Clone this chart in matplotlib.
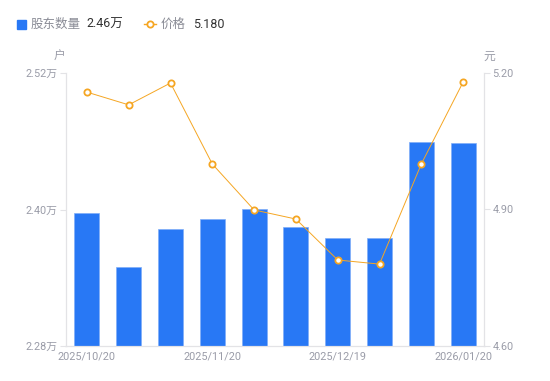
import matplotlib
matplotlib.use("Agg")
import matplotlib.pyplot as plt
from matplotlib.lines import Line2D

plt.rcParams['font.family'] = ['Roboto', 'Noto Sans CJK SC', 'DejaVu Sans']

dates = ["2025/10/20", "2025/10/31", "2025/11/10", "2025/11/20", "2025/11/28",
         "2025/12/10", "2025/12/19", "2025/12/31", "2026/01/09", "2026/01/20"]
holders = [2.3967, 2.3494, 2.3829, 2.3914, 2.4007, 2.3844, 2.3749, 2.3747, 2.4596, 2.4582]
price = [5.158, 5.130, 5.178, 5.000, 4.899, 4.879, 4.789, 4.780, 5.000, 5.180]
tick_idx = [0, 3, 6, 9]
left_ticks = [2.28, 2.40, 2.52]
left_labels = ["2.28万", "2.40万", "2.52万"]
right_ticks = [4.60, 4.90, 5.20]
right_labels = ["4.60", "4.90", "5.20"]

bar_color = "#2878F5"
bar_edge = "#7FAEF8"
line_color = "#F5A623"
txt = "#9A9CA8"
axis_c = "#E3E3E6"

fig = plt.figure(figsize=(5.5, 3.81), dpi=100)
ax = fig.add_axes([66/550, 1-346/381, (484-66)/550, (346-73)/381])
x = list(range(len(dates)))
ax.bar(x, holders, width=0.6, color=bar_color, edgecolor=bar_edge, linewidth=0.5, zorder=2)
ax.set_xlim(-0.5, len(dates)-0.5)
ax.set_ylim(2.28, 2.52)
ax.set_yticks(left_ticks)
ax.set_yticklabels(left_labels)
ax.set_xticks(tick_idx)
ax.set_xticklabels([dates[i] for i in tick_idx])

ax2 = ax.twinx()
ax2.plot(x, price, color=line_color, lw=0.7, marker='o', ms=4.5,
         mfc='white', mec=line_color, mew=1.3, zorder=3)
ax2.set_ylim(4.60, 5.20)
ax2.set_yticks(right_ticks)
ax2.set_yticklabels(right_labels)

for a in (ax, ax2):
    for s in a.spines.values():
        s.set_color(axis_c)
        s.set_linewidth(0.8)
    a.spines['top'].set_visible(False)
    a.tick_params(colors=axis_c, labelcolor=txt, labelsize=7.8, length=4, width=0.8)
ax.tick_params(axis='x', length=0, pad=4)
ax2.tick_params(axis='y', pad=2)
ax.tick_params(axis='y', pad=2)

fig.text(60/550, 1-56/381, "户", color=txt, fontsize=8.5, ha='center', va='center')
fig.text(489/550, 1-56/381, "元", color=txt, fontsize=8.5, ha='center', va='center')

# legend
fig.patches.append(plt.Rectangle((17/550, 1-29/381), 9/550, 9/381, color=bar_color,
                                 transform=fig.transFigure, figure=fig))
fig.text(31/550, 1-24/381, "股东数量", color="#8A8C96", fontsize=9, va='center')
fig.text(86/550, 1-24/381, "2.46万", color="#333333", fontsize=9, va='center')
fig.lines.append(Line2D([144/550, 156/550], [1-24/381, 1-24/381], color=line_color, lw=1,
                        transform=fig.transFigure))
fig.lines.append(Line2D([150/550], [1-24/381], color=line_color, marker='o', ms=4.5,
                        mfc='white', mec=line_color, mew=1.3, transform=fig.transFigure))
fig.text(161/550, 1-24/381, "价格", color="#8A8C96", fontsize=9, va='center')
fig.text(193/550, 1-24/381, "5.180", color="#333333", fontsize=9, va='center')

fig.savefig("out.png", dpi=100)
